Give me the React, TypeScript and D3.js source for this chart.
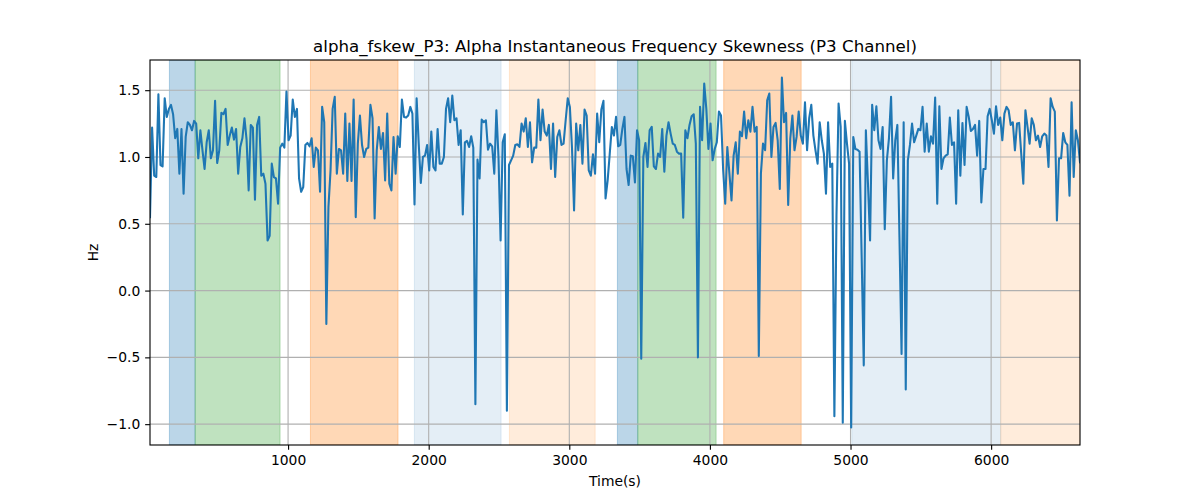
import React, { useRef, useEffect } from "react";
import * as d3 from "d3";

// sampling of the skewness trace (seconds)
const startTime = 18;
const sampleStep = 14.93;

// Hz values, read left to right in six chunks
const segA = [
  0.55, 1.22, 0.86, 0.85, 1.47, 0.94, 0.93, 1.44, 1.3, 1.36, 1.39, 1.32, 1.14, 1.21, 0.875, 1.21, 0.725, 1.15, 1.26, 1.24,
  1.2, 1.27, 1.25, 0.99, 1.2, 1.05, 0.91, 1.11, 1.2, 0.99, 1.05, 1.42, 0.955, 1.05, 1.33, 1.32, 1.36, 1.09, 1.16, 1.22,
  1.13, 1.21, 0.875, 1.075, 1.14, 1.29, 1.13, 0.75, 1.24, 1.22, 0.68, 1.24, 1.3, 0.86, 0.875, 0.8, 0.375, 0.41, 0.95, 0.85,
  0.84, 0.65, 1.07, 1.1, 1.07, 1.49, 1.125, 1.16, 1.43, 1.3, 1.36, 0.84, 0.74, 0.775, 1.09,
];
const segB = [
  1.105, 1.08, 1.14, 0.925, 1.07, 1.05, 0.74, 1.375, 1.26, -0.25, 0.625, 0.9, 1.36, 1.45, 0.875, 1.06, 1.05, 0.875, 1.325, 0.82,
  1.25, 0.82, 1.43, 0.55, 1.1, 1.31, 1.09, 1.0, 1.06, 1.07, 1.39, 1.29, 0.54, 1.05, 1.225, 1.06, 1.18, 0.825, 1.325, 0.8,
  0.75, 1.15, 0.875, 1.155, 1.075, 1.43, 1.3, 1.295, 1.31, 1.375, 1.325, 0.645, 1.44, 1.1, 0.805, 1.0, 1.01, 1.09, 0.9, 1.19,
  0.925, 0.9, 1.21, 0.95, 0.95, 1.0, 1.36, 1.44, 1.26, 1.46, 1.275, 1.29, 1.09,
];
const segC = [
  1.2, 0.57, 1.11, 1.12, 1.075, 1.155, 1.07, -0.85, 0.98, 0.84, 1.28, 1.26, 1.275, 1.055, 1.1, 1.08, 0.875, 1.35, 1.0, 0.375,
  1.11, 1.17, -0.9, 0.94, 0.975, 1.01, 1.09, 1.095, 1.075, 1.25, 1.19, 1.29, 1.075, 1.26, 0.96, 1.07, 1.07, 1.43, 1.125, 1.355,
  1.19, 1.16, 1.24, 0.91, 1.25, 0.85, 1.15, 1.2, 1.09, 1.1, 1.275, 1.44, 1.375, 1.075, 0.6, 1.25, 1.05, 1.24, 0.95, 1.355,
  1.31, 0.9, 0.86, 1.02, 0.875, 1.325, 1.11, 1.355, 1.42, 0.69, 0.825, 1.025, 1.225, 1.16,
];
const segD = [
  1.3, 1.08, 1.09, 1.21, 1.3, 0.91, 0.79, 1.01, 1.005, 0.81, 1.2, 1.125, -0.51, 1.0, 1.105, 0.925, 1.2, 1.225, 0.93, 0.91,
  1.025, 1.0, 1.21, 0.89, 1.16, 1.26, 1.175, 1.1, 1.09, 1.04, 1.025, 1.025, 0.545, 1.2, 1.14, 1.24, 1.305, 1.32, 1.1, -0.5,
  1.375, 1.125, 1.55, 1.36, 1.06, 1.25, 0.975, 1.06, 1.11, 1.34, 1.31, 0.91, 0.65, 1.075, 0.875, 0.675, 1.01, 1.11, 0.875, 1.19,
  1.155, 1.34, 1.14, 1.275, 1.19, 1.375, 1.19, 1.225, -0.49, 0.875, 1.1, 1.05, 1.425, 1.475,
];
const segE = [
  1.0, 1.225, 1.255, 1.125, 0.76, 1.595, 1.26, 1.33, 0.64, 1.14, 1.31, 1.05, 1.15, 1.34, 1.16, 1.1, 1.41, 1.05, 1.29, 1.39,
  1.16, 1.05, 0.95, 1.26, 1.125, 1.025, 0.725, 1.26, 0.925, 0.95, -0.94, 0.56, 1.4, 1.225, -0.99, 1.27, 1.1, 0.95, -1.025, 1.15,
  1.06, 1.055, 1.04, 0.25, -0.56, 1.2, 0.8, 0.375, 1.39, 1.2, 1.38, 1.125, 1.06, 1.225, 0.46, 0.975, 1.14, 1.45, 0.84, 1.125,
  1.24, 0.4, -0.475, 1.26, -0.74, 0.975, 1.09, 1.25, 1.11, 1.16, 1.21, 1.2, 1.375,
];
const segF = [
  1.04, 1.25, 1.04, 1.155, 1.1, 1.445, 0.65, 1.38, 0.91, 0.99, 1.01, 1.02, 1.295, 1.09, 1.11, 0.65, 1.35, 0.86, 1.255, 0.94,
  1.375, 1.3, 1.195, 1.21, 1.24, 1.01, 1.27, 0.66, 0.91, 0.91, 1.305, 1.36, 1.275, 1.175, 1.38, 1.24, 1.295, 1.125, 1.325, 1.375,
  1.35, 1.24, 1.26, 1.05, 1.25, 1.255, 1.025, 0.8, 1.35, 1.225, 1.1, 1.29, 1.24, 1.125, 1.16, 1.075, 1.155, 1.175, 1.16, 0.925,
  1.44, 1.375, 1.34, 0.525, 0.99, 0.99, 1.18, 1.11, 1.09, 0.71, 1.41, 0.85, 1.2, 1.125, 0.96,
];

// shaded intervals (seconds)
const spanStarts = [156, 339, 1159, 1898, 2574, 3342, 3487, 4098, 5009, 6068];
const spanEnds = [339, 943, 1782, 2515, 3184, 3487, 4044, 4649, 6068, 6631];
const spanColors = ["#1f77b4", "#2ca02c", "#ff7f0e", "#1f77b4", "#ff7f0e", "#1f77b4", "#2ca02c", "#ff7f0e", "#1f77b4", "#ff7f0e"];
const spanAlphas = [0.3, 0.3, 0.3, 0.12, 0.15, 0.3, 0.3, 0.3, 0.12, 0.15];

const xTicks = [1000, 2000, 3000, 4000, 5000, 6000];
const yTicks = [-1.0, -0.5, 0.0, 0.5, 1.0, 1.5];

const FONT = "DejaVu Sans, sans-serif";
const PT = 100 / 72; // matplotlib points -> px at 100 dpi

const App: React.FC = () => {
  const svgRef = useRef<SVGSVGElement | null>(null);

  useEffect(() => {
    const svg = d3.select(svgRef.current);
    svg.selectAll("*").remove();

    const width = 1200;
    const height = 500;
    const margin = { top: 60, right: 120, bottom: 55, left: 150 };

    const values = [...segA, ...segB, ...segC, ...segD, ...segE, ...segF];
    const data = values.map((v, i) => ({ t: startTime + i * sampleStep, v }));

    const x = d3
      .scaleLinear()
      .domain([data[0].t, data[data.length - 1].t])
      .range([margin.left, width - margin.right]);
    const y = d3
      .scaleLinear()
      .domain([-1.156, 1.726])
      .range([height - margin.bottom, margin.top]);

    svg.attr("width", width).attr("height", height).attr("viewBox", `0 0 ${width} ${height}`);

    svg.append("defs")
      .append("clipPath")
      .attr("id", "plot-clip")
      .append("rect")
      .attr("x", margin.left)
      .attr("y", margin.top)
      .attr("width", width - margin.left - margin.right)
      .attr("height", height - margin.top - margin.bottom);

    const plot = svg.append("g").attr("clip-path", "url(#plot-clip)");

    // spans
    spanStarts.forEach((s, i) => {
      plot.append("rect")
        .attr("x", x(s))
        .attr("y", margin.top)
        .attr("width", x(spanEnds[i]) - x(s))
        .attr("height", height - margin.top - margin.bottom)
        .attr("fill", spanColors[i])
        .attr("fill-opacity", spanAlphas[i])
        .attr("stroke", spanColors[i])
        .attr("stroke-opacity", spanAlphas[i])
        .attr("stroke-width", 1);
    });

    // grid
    plot.selectAll(".gx")
      .data(xTicks)
      .enter()
      .append("line")
      .attr("x1", d => x(d))
      .attr("x2", d => x(d))
      .attr("y1", margin.top)
      .attr("y2", height - margin.bottom)
      .attr("stroke", "#b0b0b0")
      .attr("stroke-width", 0.8 * PT);
    plot.selectAll(".gy")
      .data(yTicks)
      .enter()
      .append("line")
      .attr("x1", margin.left)
      .attr("x2", width - margin.right)
      .attr("y1", d => y(d))
      .attr("y2", d => y(d))
      .attr("stroke", "#b0b0b0")
      .attr("stroke-width", 0.8 * PT);

    const line = d3
      .line<{ t: number; v: number }>()
      .x(d => x(d.t))
      .y(d => y(d.v));

    plot.append("path")
      .datum(data)
      .attr("fill", "none")
      .attr("stroke", "#1f77b4")
      .attr("stroke-width", 1.5 * PT)
      .attr("stroke-linejoin", "round")
      .attr("stroke-linecap", "square")
      .attr("d", line);

    // axes
    const xAxis = svg.append("g")
      .attr("transform", `translate(0,${height - margin.bottom})`)
      .call(d3.axisBottom(x).tickValues(xTicks).tickSize(3.5 * PT).tickPadding(3.5 * PT).tickFormat(d3.format("d")));
    const yAxis = svg.append("g")
      .attr("transform", `translate(${margin.left},0)`)
      .call(d3.axisLeft(y).tickValues(yTicks).tickSize(3.5 * PT).tickPadding(3.5 * PT).tickFormat(d3.format(".1f")));

    [xAxis, yAxis].forEach(ax => {
      ax.select(".domain").remove();
      ax.attr("color", "#000").attr("font-family", FONT).attr("font-size", 10 * PT);
      ax.selectAll("line").attr("stroke-width", 0.8 * PT);
    });

    // spines
    svg.append("rect")
      .attr("x", margin.left)
      .attr("y", margin.top)
      .attr("width", width - margin.left - margin.right)
      .attr("height", height - margin.top - margin.bottom)
      .attr("fill", "none")
      .attr("stroke", "#000")
      .attr("stroke-width", 0.8 * PT);

    svg.append("text")
      .attr("x", (margin.left + width - margin.right) / 2)
      .attr("y", 52)
      .attr("text-anchor", "middle")
      .attr("font-family", FONT)
      .attr("font-size", 12 * PT)
      .text("alpha_fskew_P3: Alpha Instantaneous Frequency Skewness (P3 Channel)");

    svg.append("text")
      .attr("x", (margin.left + width - margin.right) / 2)
      .attr("y", 486)
      .attr("text-anchor", "middle")
      .attr("font-family", FONT)
      .attr("font-size", 10 * PT)
      .text("Time(s)");

    svg.append("text")
      .attr("transform", `translate(98,${(margin.top + height - margin.bottom) / 2}) rotate(-90)`)
      .attr("text-anchor", "middle")
      .attr("font-family", FONT)
      .attr("font-size", 10 * PT)
      .text("Hz");
  }, []);

  return <svg ref={svgRef} style={{ position: "absolute", left: 0, top: 0 }} />;
};

export default App;
